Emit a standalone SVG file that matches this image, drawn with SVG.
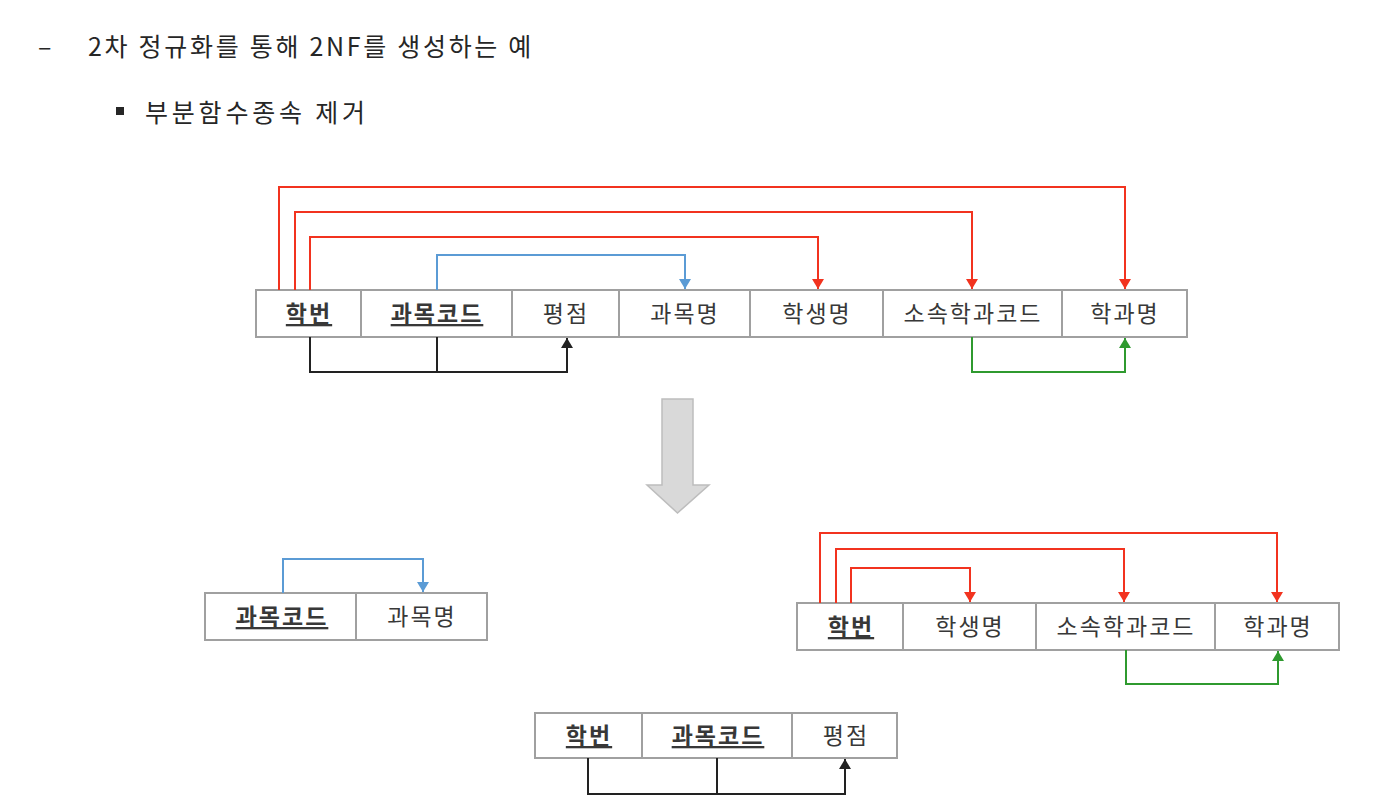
<svg xmlns="http://www.w3.org/2000/svg" width="1396" height="805" viewBox="0 0 1396 805">
<defs>
<style>
.box{fill:#fff;stroke:#a0a0a0;stroke-width:2}
.t{font-family:"Noto Sans CJK KR","Noto Sans",sans-serif;font-size:23px;letter-spacing:2px;fill:#383838;text-anchor:middle}
.k{font-weight:bold;text-decoration:underline}
.h{font-family:"Noto Sans CJK KR","Noto Sans",sans-serif;fill:#262626;font-size:25px}
.r{fill:none;stroke:#f2331f;stroke-width:2}
.b{fill:none;stroke:#5b9bd5;stroke-width:2}
.g{fill:none;stroke:#2f9a2f;stroke-width:2}
.d{fill:none;stroke:#222;stroke-width:2}
</style>
<marker id="mr" markerUnits="userSpaceOnUse" markerWidth="12" markerHeight="12" refX="10" refY="6" orient="auto"><path d="M0,0 L10,6 L0,12 Z" fill="#f2331f"/></marker>
<marker id="mb" markerUnits="userSpaceOnUse" markerWidth="12" markerHeight="12" refX="10" refY="6" orient="auto"><path d="M0,0 L10,6 L0,12 Z" fill="#5b9bd5"/></marker>
<marker id="mg" markerUnits="userSpaceOnUse" markerWidth="12" markerHeight="12" refX="10" refY="6" orient="auto"><path d="M0,0 L10,6 L0,12 Z" fill="#2f9a2f"/></marker>
<marker id="md" markerUnits="userSpaceOnUse" markerWidth="12" markerHeight="12" refX="10" refY="6" orient="auto"><path d="M0,0 L10,6 L0,12 Z" fill="#222"/></marker>
</defs>
<rect width="1396" height="805" fill="#fff"/>

<g id="title">
<text class="h" x="38" y="56">–</text>
<text class="h" x="88" y="56" letter-spacing="2.7">2차 정규화를 통해 2NF를 생성하는 예</text>
<rect x="116" y="107" width="8" height="8" fill="#262626"/>
<text class="h" x="145" y="122" letter-spacing="3.8">부분함수종속 제거</text>
</g>

<g id="table1">
<rect class="box" x="256" y="290" width="105" height="47"/>
<rect class="box" x="361" y="290" width="151" height="47"/>
<rect class="box" x="512" y="290" width="107" height="47"/>
<rect class="box" x="619" y="290" width="131" height="47"/>
<rect class="box" x="750" y="290" width="133" height="47"/>
<rect class="box" x="883" y="290" width="179" height="47"/>
<rect class="box" x="1062" y="290" width="125" height="47"/>
<text class="t k" x="309" y="322">학번</text>
<text class="t k" x="437" y="322">과목코드</text>
<text class="t" x="566" y="322">평점</text>
<text class="t" x="685" y="322">과목명</text>
<text class="t" x="817" y="322">학생명</text>
<text class="t" x="973" y="322">소속학과코드</text>
<text class="t" x="1125" y="322">학과명</text>
</g>

<g id="arrow-down">
<path d="M662,399 L693,399 L693,485 L709,485 L677.5,513 L647,485 L662,485 Z" fill="#d9d9d9" stroke="#bdbdbd" stroke-width="1.5"/>
</g>

<g id="table2">
<rect class="box" x="205" y="593" width="151" height="47"/>
<rect class="box" x="356" y="593" width="131" height="47"/>
<text class="t k" x="282" y="625">과목코드</text>
<text class="t" x="422" y="625">과목명</text>
</g>

<g id="table3">
<rect class="box" x="797" y="603" width="106" height="47"/>
<rect class="box" x="903" y="603" width="133" height="47"/>
<rect class="box" x="1036" y="603" width="179" height="47"/>
<rect class="box" x="1215" y="603" width="124" height="47"/>
<text class="t k" x="851" y="635">학번</text>
<text class="t" x="970" y="635">학생명</text>
<text class="t" x="1126" y="635">소속학과코드</text>
<text class="t" x="1278" y="635">학과명</text>
</g>

<g id="table4">
<rect class="box" x="535" y="713" width="107" height="45"/>
<rect class="box" x="642" y="713" width="150" height="45"/>
<rect class="box" x="792" y="713" width="105" height="45"/>
<text class="t k" x="589" y="744">학번</text>
<text class="t k" x="718" y="744">과목코드</text>
<text class="t" x="846" y="744">평점</text>
</g>

<g id="connectors">
<path class="r" d="M279,290 V187 H1125 V289" marker-end="url(#mr)"/>
<path class="r" d="M295,290 V212 H972 V289" marker-end="url(#mr)"/>
<path class="r" d="M310,290 V237 H818 V289" marker-end="url(#mr)"/>
<path class="b" d="M437,290 V255 H685 V289" marker-end="url(#mb)"/>
<path class="d" d="M310,337 V372 H567 V338" marker-end="url(#md)"/>
<path class="d" d="M437,337 V372"/>
<path class="g" d="M972,337 V372 H1125 V338" marker-end="url(#mg)"/>

<path class="b" d="M283,593 V559 H423 V592" marker-end="url(#mb)"/>

<path class="r" d="M820,603 V533 H1277 V602" marker-end="url(#mr)"/>
<path class="r" d="M836,603 V549 H1124 V602" marker-end="url(#mr)"/>
<path class="r" d="M851,603 V568 H970 V602" marker-end="url(#mr)"/>
<path class="g" d="M1126,650 V684 H1278 V651" marker-end="url(#mg)"/>

<path class="d" d="M588,758 V794 H845 V759" marker-end="url(#md)"/>
<path class="d" d="M717,758 V794"/>
</g>
</svg>
